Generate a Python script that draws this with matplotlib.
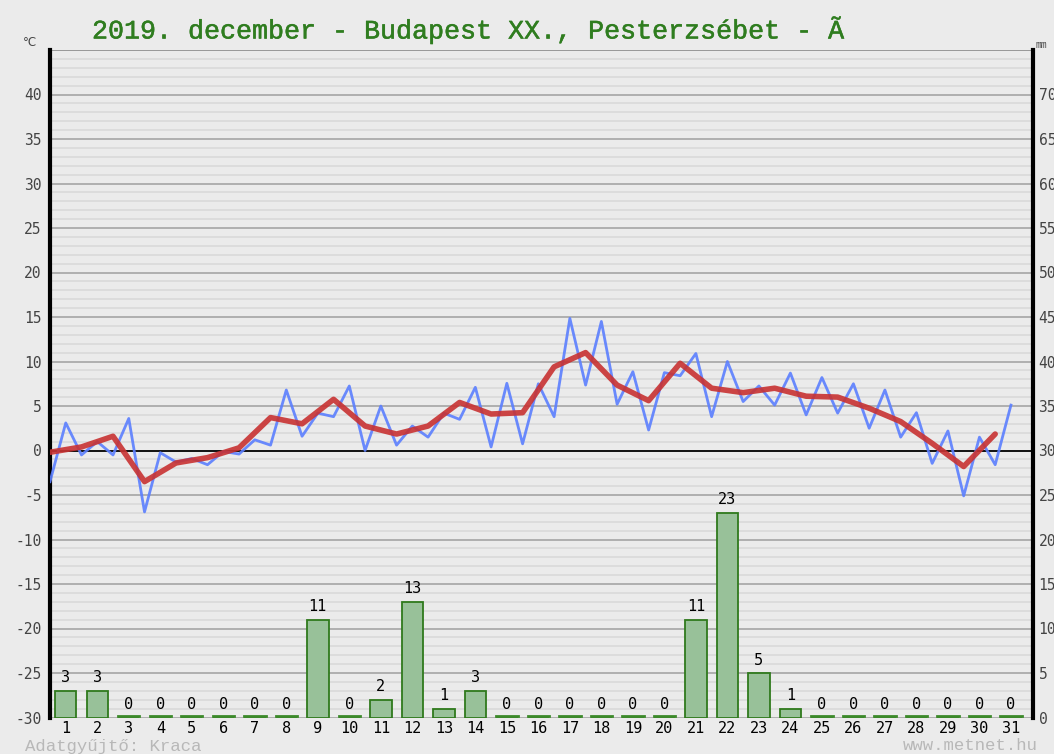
import matplotlib
matplotlib.use("Agg")
import matplotlib.pyplot as plt
import matplotlib.patheffects as pe
import numpy as np

# ---- data ----
days = list(range(1, 32))
precip_mm = [3, 3, 0, 0, 0, 0, 0, 0, 11, 0, 2, 13, 1, 3, 0, 0, 0, 0, 0, 0,
             11, 23, 5, 1, 0, 0, 0, 0, 0, 0, 0]
daily_mean = [-0.2, 0.4, 1.6, -3.5, -1.4, -0.8, 0.3, 3.7, 3.0, 5.75,
              2.75, 1.85, 2.75, 5.4, 4.1, 4.25, 9.4, 11.0, 7.35, 5.6,
              9.8, 7.0, 6.5, 7.0, 6.1, 6.0, 4.75, 3.25, 0.8, -1.8, 1.85]
halfday_temp = [-3.5, 3.1, -0.5, 1.0, -0.5, 3.6, -6.9, -0.25, -1.3, -0.9,
                -1.6, -0.1, -0.4, 1.2, 0.6, 6.8, 1.6, 4.2, 3.8, 7.25,
                0.0, 5.0, 0.6, 2.75, 1.5, 4.2, 3.5, 7.1, 0.4, 7.55,
                0.75, 7.5, 3.8, 14.85, 7.35, 14.5, 5.2, 8.85, 2.3, 8.75,
                8.4, 10.9, 3.8, 10.0, 5.5, 7.25, 5.1, 8.7, 4.0, 8.2,
                4.2, 7.5, 2.5, 6.8, 1.5, 4.25, -1.45, 2.2, -5.1, 1.5,
                -1.6, 5.1]
temp_ticks = list(range(-30, 45, 5))
mm_ticks = list(range(0, 75, 5))
title = "2019. december - Budapest XX., Pesterzsébet - Ã"

# ---- figure ----
bg = "#ebebeb"
TMIN, TMAX = -30, 45
fig = plt.figure(figsize=(10.54, 7.54), dpi=100, facecolor=bg)
rect = [50 / 1054, 36.5 / 754, 983 / 1054, 667.5 / 754]

# bottom axes: grid + precipitation bars (mm scale, 0 mm == -30 °C)
axb = fig.add_axes(rect, facecolor=bg)
axb.set_xlim(0, 31.2)
axb.set_ylim(0, TMAX - TMIN)
for t in range(TMIN, TMAX + 1):
    y = t - TMIN
    if t == 0:
        axb.axhline(y, color="black", lw=1.3, zorder=1)
    elif t == TMAX:
        axb.axhline(y, color="#8a8a8a", lw=1.2, zorder=1)
    elif t % 5 == 0:
        axb.axhline(y, color="#a5a5a5", lw=1.2, zorder=0.5)
    else:
        axb.axhline(y, color="#d9d9d9", lw=1.2, zorder=0)

xb = np.array(days) - 0.5
pr = np.array(precip_mm, dtype=float)
axb.bar(xb, pr, width=0.68, bottom=0, color="#98c199", edgecolor="#2f7a1c",
        linewidth=1.3, zorder=2)
for x, v in zip(xb, pr):
    if v == 0:
        axb.plot([x - 0.34, x + 0.34], [0.15, 0.15], color="#3c8a2a", lw=2, zorder=2)
    axb.text(x, v + 0.6, f"{int(v)}", ha="center", va="bottom",
             fontsize=11, family="DejaVu Sans Mono", color="black", zorder=5)

axb.set_yticks(mm_ticks)
axb.set_yticklabels([str(t) for t in mm_ticks])
axb.yaxis.tick_right()
axb.tick_params(axis="y", length=0, pad=4, labelsize=10.5, labelcolor="#444444")
for lab in axb.get_yticklabels():
    lab.set_family("DejaVu Sans Mono")
axb.set_xticks(xb)
axb.set_xticklabels([str(d) for d in days])
axb.tick_params(axis="x", length=0, pad=2.5, labelsize=11, labelcolor="black")
for lab in axb.get_xticklabels():
    lab.set_family("DejaVu Sans Mono")
for s in ("top", "bottom", "left"):
    axb.spines[s].set_visible(False)
axb.spines["right"].set_linewidth(3)

# top axes: temperature lines
ax = fig.add_axes(rect, facecolor="none")
ax.set_xlim(0, 31.2)
ax.set_ylim(TMIN, TMAX)
xh = np.arange(len(halfday_temp)) * 0.5
ax.plot(xh, halfday_temp, color="#5b7fff", lw=2.0, alpha=0.9, zorder=3)
xd = np.arange(len(daily_mean))
ax.plot(xd, daily_mean, color="#c83232", lw=4.0, alpha=0.9, zorder=4,
        solid_joinstyle="round", solid_capstyle="round")
for s in ("top", "bottom", "right"):
    ax.spines[s].set_visible(False)
ax.spines["left"].set_linewidth(3)
ax.set_yticks(temp_ticks)
ax.set_yticklabels([str(t) for t in temp_ticks])
ax.tick_params(axis="y", length=0, pad=6, labelsize=10.5, labelcolor="#444444")
for lab in ax.get_yticklabels():
    lab.set_family("DejaVu Sans Mono")
ax.set_xticks([])

# texts
fig.text(468 / 1054, 1 - 30 / 754, title, ha="center", va="center",
         fontsize=19.2, family="Liberation Mono", color="#2f7d1f",
         path_effects=[pe.withStroke(linewidth=0.35, foreground="#2f7d1f")])
fig.text(30 / 1054, 1 - 43 / 754, "°C", ha="center", va="center", fontsize=8.5,
         family="DejaVu Sans", color="#444444")
fig.text(1036 / 1054, 1 - 45 / 754, "mm", ha="left", va="center", fontsize=7,
         family="Liberation Mono", color="#444444")
fig.text(25 / 1054, 1 - 746 / 754, "Adatgyűjtő: Kraca", ha="left", va="center",
         fontsize=12.5, family="Liberation Mono", color="#b8b8b8")
fig.text(1038 / 1054, 1 - 746 / 754, "www.metnet.hu", ha="right", va="center",
         fontsize=12.5, family="Liberation Mono", color="#b8b8b8")

fig.savefig("out.png", dpi=100, facecolor=bg)
